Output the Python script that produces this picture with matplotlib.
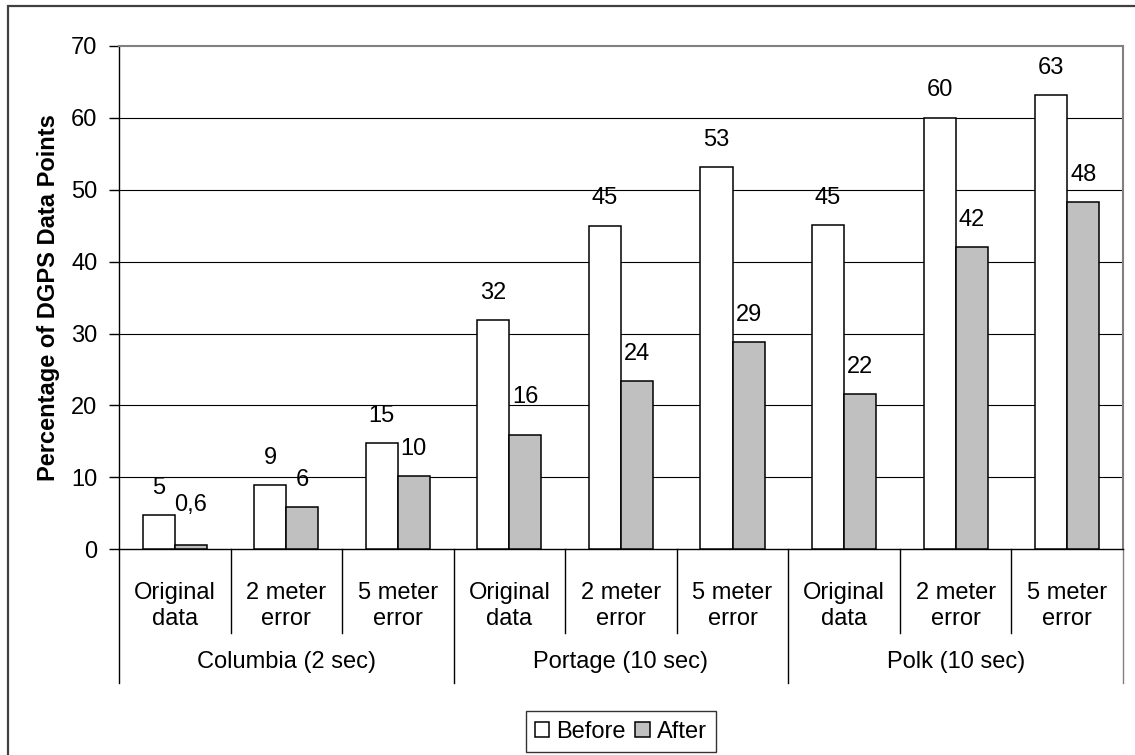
import numpy as np
import matplotlib
matplotlib.use('Agg')
import matplotlib.pyplot as plt
import matplotlib.patches as patches
import matplotlib.transforms as mtransforms

# values
groups = ["Columbia (2 sec)", "Portage (10 sec)", "Polk (10 sec)"]
categories = ["Original\ndata", "2 meter\nerror", "5 meter\nerror"] * 3
before = [4.8, 9.0, 14.8, 31.9, 45.0, 53.1, 45.1, 60.0, 63.1]
after = [0.6, 5.9, 10.2, 15.9, 23.4, 28.8, 21.6, 42.0, 48.2]
before_labels = ["5", "9", "15", "32", "45", "53", "45", "60", "63"]
after_labels = ["0,6", "6", "10", "16", "24", "29", "22", "42", "48"]
yticks = [0, 10, 20, 30, 40, 50, 60, 70]

plt.rcParams['font.family'] = ['Liberation Sans', 'DejaVu Sans']
FS = 17

fig = plt.figure(figsize=(11.35, 7.55), dpi=100)
ax = fig.add_axes([0.1048, 0.2722, 0.8846, 0.6675])

x = np.arange(len(categories))
w = 0.287
bb = ax.bar(x - w, before, w, align='edge', color='white', edgecolor='black', lw=1.1, zorder=3)
ba = ax.bar(x, after, w, align='edge', color='#c0c0c0', edgecolor='black', lw=1.1, zorder=3)

# data labels (two of the After labels sit a bit higher in the original)
extra = {0: 9.5, 3: 8.0}
for i in range(len(x)):
    ax.annotate(before_labels[i], (x[i] - w / 2, before[i]), xytext=(0, 19.5),
                textcoords='offset points', ha='center', va='center', fontsize=FS)
    ax.annotate(after_labels[i], (x[i] + w / 2, after[i]), xytext=(0, 19.5 + extra.get(i, 0)),
                textcoords='offset points', ha='center', va='center', fontsize=FS)

ax.set_xlim(-0.5, len(categories) - 0.5)
ax.set_ylim(0, 70)
ax.set_yticks(yticks)
ax.tick_params(axis='y', length=7, width=1, pad=8.5, labelsize=FS, direction='out')
ax.set_xticks([])
for yv in yticks[1:-1]:
    ax.axhline(yv, color='black', lw=0.8, zorder=1)

for s in ['top', 'right']:
    ax.spines[s].set_color('#808080')
    ax.spines[s].set_linewidth(1.5)
ax.spines['left'].set_linewidth(1.0)
ax.spines['bottom'].set_linewidth(1.0)

ax.set_ylabel("Percentage of DGPS Data Points", fontsize=17, fontweight='bold', labelpad=8)

# category axis: labels and separators below the plot
trans = mtransforms.blended_transform_factory(ax.transData, ax.transAxes)
for i, c in enumerate(categories):
    ax.text(x[i], -0.112, c, transform=trans, ha='center', va='center', fontsize=FS)
for k in range(len(categories) + 1):
    xb = k - 0.5
    if k % 3 == 0:
        col = '#808080' if k == len(categories) else 'black'
        ax.plot([xb, xb], [0, -0.265], transform=trans, color=col, lw=1.0, clip_on=False)
    else:
        ax.plot([xb, xb], [0, -0.166], transform=trans, color='black', lw=1.0, clip_on=False)
for j, g in enumerate(groups):
    ax.text(3 * j + 1, -0.235, g, transform=trans, ha='center', va='baseline', fontsize=FS)

leg = ax.legend([bb, ba], ["Before", "After"], loc='center', bbox_to_anchor=(0.5, -0.362),
                ncol=2, fontsize=FS, frameon=True, fancybox=False, edgecolor='black',
                handlelength=0.6, handleheight=0.6, handletextpad=0.3, columnspacing=0.4,
                borderpad=0.4, borderaxespad=0)
leg.get_frame().set_linewidth(1.0)

# outer chart border (cut off on right and bottom)
fig.add_artist(patches.Rectangle((8 / 1135, -1), 2, 1 + (1 - 6 / 755), transform=fig.transFigure,
                                 fill=False, edgecolor='#404040', lw=1.6))

plt.savefig("out.png", dpi=100)
plt.close()
